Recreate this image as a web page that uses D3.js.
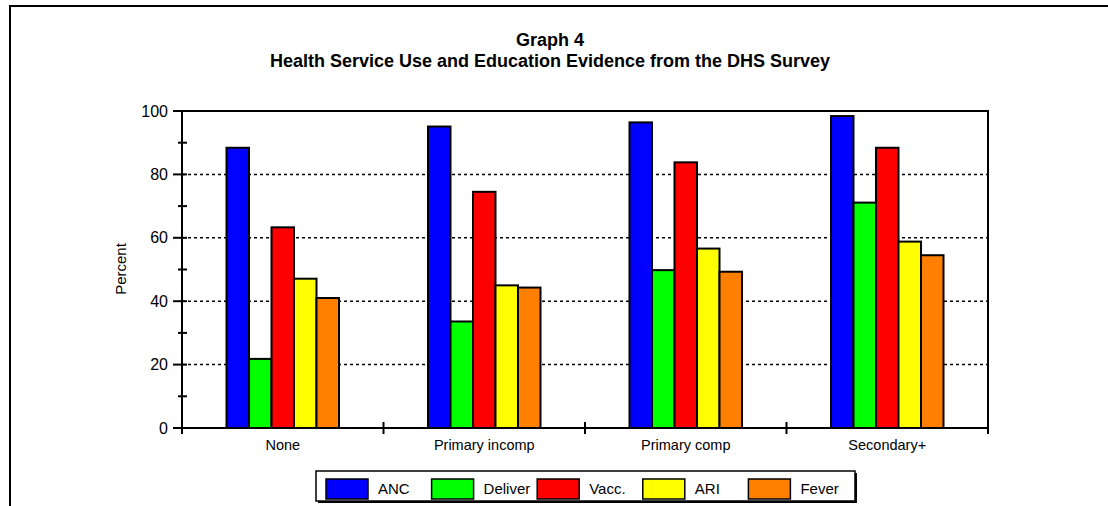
<!DOCTYPE html>
<html lang="en">
<head>
    <meta charset="UTF-8">
    <title>Graph 4</title>
    <script src="https://d3js.org/d3.v7.min.js"></script>
    <style>
        body { margin: 0; background: #fff; }
        text { font-family: "Liberation Sans", Arial, sans-serif; fill: #000; }
        .title { font-size: 18px; font-weight: bold; }
        .ytick { font-size: 16px; }
        .xtick { font-size: 14.5px; }
        .leg { font-size: 15px; }
    </style>
</head>
<body>
    <script>
        const categories = ["None", "Primary incomp", "Primary comp", "Secondary+"];
        const series = ["ANC", "Deliver", "Vacc.", "ARI", "Fever"];
        const colors = ["#0000ff", "#00ff00", "#ff0000", "#ffff00", "#ff8000"];
        const anc = [88.4, 95.1, 96.4, 98.4];
        const deliver = [21.8, 33.6, 49.8, 71.1];
        const vacc = [63.3, 74.5, 83.8, 88.4];
        const ari = [47.1, 45.0, 56.6, 58.8];
        const fever = [41.0, 44.3, 49.3, 54.5];
        const yTicks = [0, 20, 40, 60, 80, 100];

        const values = [anc, deliver, vacc, ari, fever];

        const width = 1108, height = 506;
        const pLeft = 182, pRight = 988, pTop = 111, pBottom = 428;

        const svg = d3.select("body").append("svg")
            .attr("width", width)
            .attr("height", height);

        // outer frame (left + top only)
        svg.append("path")
            .attr("d", `M10,${height} L10,6 L${width},6`)
            .attr("fill", "none")
            .attr("stroke", "#000")
            .attr("stroke-width", 2);

        // titles
        svg.append("text").attr("class", "title")
            .attr("x", 550).attr("y", 46).attr("text-anchor", "middle")
            .text("Graph 4");
        svg.append("text").attr("class", "title")
            .attr("x", 550).attr("y", 67).attr("text-anchor", "middle")
            .text("Health Service Use and Education Evidence from the DHS Survey");

        // scales
        const y = d3.scaleLinear().domain([0, 100]).range([pBottom, pTop]);
        const x0 = d3.scaleBand().domain(categories).range([pLeft, pRight]);
        const bw = x0.bandwidth();
        const groupW = 112.5;
        const x1 = d3.scaleBand().domain(series)
            .range([(bw - groupW) / 2, (bw + groupW) / 2]);

        // dotted gridlines
        svg.append("g").selectAll("line")
            .data(yTicks.filter(d => d > 0 && d < 100))
            .enter().append("line")
            .attr("x1", pLeft).attr("x2", pRight)
            .attr("y1", d => y(d)).attr("y2", d => y(d))
            .attr("stroke", "#000")
            .attr("stroke-width", 1.5)
            .attr("stroke-dasharray", "3,3");

        // bars
        const group = svg.selectAll(".grp")
            .data(categories)
            .enter().append("g")
            .attr("class", "grp")
            .attr("transform", d => `translate(${x0(d)},0)`);

        group.selectAll("rect")
            .data((c, ci) => series.map((s, si) => ({ s, si, v: values[si][ci] })))
            .enter().append("rect")
            .attr("x", d => x1(d.s))
            .attr("y", d => y(d.v))
            .attr("width", x1.bandwidth())
            .attr("height", d => y(0) - y(d.v))
            .attr("fill", d => colors[d.si])
            .attr("stroke", "#000")
            .attr("stroke-width", 2);

        // plot border: top and right
        svg.append("path")
            .attr("d", `M${pLeft},${pTop} L${pRight},${pTop} L${pRight},${pBottom}`)
            .attr("fill", "none")
            .attr("stroke", "#000")
            .attr("stroke-width", 2);

        // y axis
        const yAxis = svg.append("g");
        yAxis.append("line")
            .attr("x1", pLeft).attr("x2", pLeft)
            .attr("y1", pTop - 1).attr("y2", pBottom + 6)
            .attr("stroke", "#000").attr("stroke-width", 2);
        yAxis.selectAll(".major")
            .data(yTicks)
            .enter().append("line")
            .attr("x1", pLeft - 9).attr("x2", pLeft + 5)
            .attr("y1", d => y(d)).attr("y2", d => y(d))
            .attr("stroke", "#000").attr("stroke-width", 2);
        yAxis.selectAll(".minor")
            .data(d3.range(10, 100, 20))
            .enter().append("line")
            .attr("x1", pLeft - 4).attr("x2", pLeft + 5)
            .attr("y1", d => y(d)).attr("y2", d => y(d))
            .attr("stroke", "#000").attr("stroke-width", 2);
        yAxis.selectAll("text")
            .data(yTicks)
            .enter().append("text")
            .attr("class", "ytick")
            .attr("x", pLeft - 14)
            .attr("y", d => y(d))
            .attr("dy", "0.35em")
            .attr("text-anchor", "end")
            .text(d => d);

        svg.append("text")
            .attr("transform", `translate(126,269) rotate(-90)`)
            .attr("text-anchor", "middle")
            .style("font-size", "15px")
            .text("Percent");

        // x axis
        const xAxis = svg.append("g");
        xAxis.append("line")
            .attr("x1", pLeft - 9).attr("x2", pRight)
            .attr("y1", pBottom).attr("y2", pBottom)
            .attr("stroke", "#000").attr("stroke-width", 2);
        xAxis.selectAll(".xt")
            .data(categories.map(c => x0(c)).concat([pRight]))
            .enter().append("line")
            .attr("x1", d => d).attr("x2", d => d)
            .attr("y1", pBottom - 6).attr("y2", pBottom + 6)
            .attr("stroke", "#000").attr("stroke-width", 2);
        xAxis.selectAll("text")
            .data(categories)
            .enter().append("text")
            .attr("class", "xtick")
            .attr("x", d => x0(d) + bw / 2)
            .attr("y", 450)
            .attr("text-anchor", "middle")
            .text(d => d);

        // legend
        const lg = svg.append("g");
        lg.append("rect")
            .attr("x", 318).attr("y", 473)
            .attr("width", 539).attr("height", 30)
            .attr("fill", "#000");
        lg.append("rect")
            .attr("x", 316).attr("y", 471)
            .attr("width", 539).attr("height", 30)
            .attr("fill", "#fff")
            .attr("stroke", "#000").attr("stroke-width", 1.5);
        const item = lg.selectAll(".item")
            .data(series)
            .enter().append("g")
            .attr("transform", (d, i) => `translate(${326 + i * 105.6},479)`);
        item.append("rect")
            .attr("width", 42).attr("height", 20)
            .attr("fill", (d, i) => colors[i])
            .attr("stroke", "#000").attr("stroke-width", 1.5);
        item.append("text")
            .attr("class", "leg")
            .attr("x", 52).attr("y", 10).attr("dy", "0.35em")
            .text(d => d);
    </script>
</body>
</html>
